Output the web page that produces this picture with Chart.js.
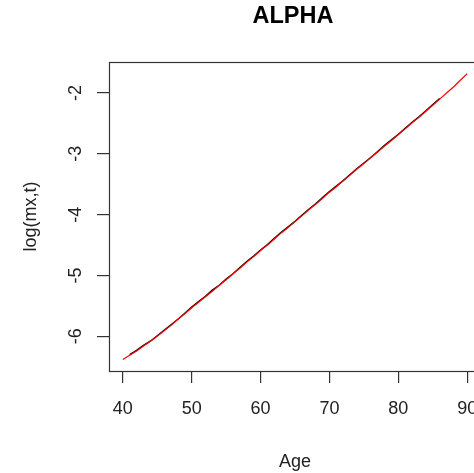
<!DOCTYPE html>
<html>
<head>
<meta charset="utf-8">
<script src="https://cdn.jsdelivr.net/npm/chart.js@4/dist/chart.umd.min.js"></script>
<style>
  html, body { margin: 0; padding: 0; background: #fff; overflow: hidden; }
  #wrap { width: 520px; height: 473px; }
</style>
</head>
<body>
<div id="wrap"><canvas id="c" width="520" height="473"></canvas></div>
<script>
// Observed log death rates by single year of age
const obsAges = [41,42,43,44,45,46,47,48,49,50,51,52,53,54,55,56,57,58,59,60,
  61,62,63,64,65,66,67,68,69,70,71,72,73,74,75,76,77,78,79,80,
  81,82,83,84,85,86];
const obsLogMx = [-6.30,-6.23,-6.15,-6.08,-5.99,-5.90,-5.81,-5.72,-5.62,-5.52,
  -5.43,-5.34,-5.24,-5.16,-5.06,-4.97,-4.87,-4.77,-4.68,-4.58,
  -4.49,-4.39,-4.29,-4.20,-4.11,-4.01,-3.91,-3.82,-3.72,-3.62,
  -3.53,-3.44,-3.34,-3.24,-3.15,-3.06,-2.96,-2.86,-2.77,-2.68,
  -2.58,-2.48,-2.39,-2.29,-2.19,-2.09];

// Fitted alpha (age pattern) over the full age range
const fitAges = [40,41,42,43,44,45,46,47,48,49,50,51,52,53,54,55,56,57,58,59,
  60,61,62,63,64,65,66,67,68,69,70,71,72,73,74,75,76,77,78,79,
  80,81,82,83,84,85,86,87,88,89,90];
const fitAlpha = [-6.38,-6.31,-6.24,-6.16,-6.08,-6.00,-5.91,-5.82,-5.72,-5.63,
  -5.53,-5.44,-5.35,-5.26,-5.16,-5.07,-4.97,-4.88,-4.78,-4.69,
  -4.59,-4.50,-4.40,-4.30,-4.21,-4.11,-4.02,-3.92,-3.83,-3.73,
  -3.63,-3.54,-3.44,-3.35,-3.25,-3.16,-3.06,-2.97,-2.87,-2.78,
  -2.68,-2.59,-2.49,-2.40,-2.30,-2.20,-2.10,-2.00,-1.90,-1.79,-1.68];

const xTicks = [40, 50, 60, 70, 80, 90];
const yTicks = [-6, -5, -4, -3, -2];

const titleText = 'ALPHA';
const xTitle = 'Age';
const yTitle = 'log(mx,t)';

const FONT = '"Liberation Sans", Arial, sans-serif';
const INK = '#222';
const AXIS = '#333';

// Frame box, main title and rotated y tick labels
const decor = {
  id: 'decor',
  afterDraw(chart) {
    const { ctx, chartArea: a } = chart;
    ctx.save();
    ctx.strokeStyle = AXIS;
    ctx.lineWidth = 1.2;
    ctx.strokeRect(Math.round(a.left) + 0.5, Math.round(a.top) + 0.5,
      Math.round(a.right - a.left), Math.round(a.bottom - a.top));

    ctx.fillStyle = '#000';
    ctx.font = 'bold 23.5px ' + FONT;
    ctx.textAlign = 'center';
    ctx.textBaseline = 'middle';
    ctx.fillText(titleText, (a.left + a.right) / 2 - 2, 17);

    const ys = chart.scales.y;
    ctx.fillStyle = INK;
    ctx.font = '18px ' + FONT;
    ys.ticks.forEach(t => {
      const py = ys.getPixelForValue(t.value);
      ctx.save();
      ctx.translate(76, py);
      ctx.rotate(-Math.PI / 2);
      ctx.textAlign = 'center';
      ctx.textBaseline = 'middle';
      ctx.fillText(String(t.value), 0, 0);
      ctx.restore();
    });
    ctx.restore();
  }
};

new Chart(document.getElementById('c'), {
  type: 'line',
  data: {
    datasets: [
      {
        label: 'fitted',
        data: fitAges.map((a, i) => ({ x: a, y: fitAlpha[i] })),
        borderColor: '#ff0000',
        borderWidth: 1.2,
        pointRadius: 0,
        tension: 0,
        fill: false,
        order: 0
      },
      {
        label: 'observed',
        data: obsAges.map((a, i) => ({ x: a, y: obsLogMx[i] })),
        borderColor: '#000000',
        borderWidth: 1.4,
        pointRadius: 0,
        tension: 0,
        fill: false,
        order: 1
      }
    ]
  },
  options: {
    responsive: false,
    animation: false,
    devicePixelRatio: 1,
    layout: { padding: { top: 62, right: 39, left: 0, bottom: 0 } },
    plugins: {
      legend: { display: false },
      title: { display: false },
      tooltip: { enabled: false }
    },
    scales: {
      x: {
        type: 'linear',
        min: 38,
        max: 92,
        afterBuildTicks(s) { s.ticks = xTicks.map(v => ({ value: v })); },
        afterFit(s) { s.height = 102; },
        grid: {
          drawOnChartArea: false,
          drawTicks: true,
          tickLength: 12,
          color: AXIS,
          lineWidth: 1.2
        },
        border: { display: false },
        ticks: {
          color: INK,
          font: { family: FONT, size: 18 },
          padding: 15,
          maxRotation: 0,
          autoSkip: false
        },
        title: {
          display: true,
          text: xTitle,
          color: INK,
          font: { family: FONT, size: 18 },
          padding: { top: 6, bottom: 0 }
        }
      },
      y: {
        type: 'linear',
        min: -6.57,
        max: -1.49,
        afterBuildTicks(s) { s.ticks = yTicks.map(v => ({ value: v })); },
        afterFit(s) { s.width = 109; },
        grid: {
          drawOnChartArea: false,
          drawTicks: true,
          tickLength: 12,
          color: AXIS,
          lineWidth: 1.2
        },
        border: { display: false },
        ticks: { display: false },
        title: {
          display: true,
          text: yTitle,
          color: INK,
          font: { family: FONT, size: 18 },
          padding: { top: 20, bottom: 0 }
        }
      }
    }
  },
  plugins: [decor]
});
</script>
</body>
</html>
